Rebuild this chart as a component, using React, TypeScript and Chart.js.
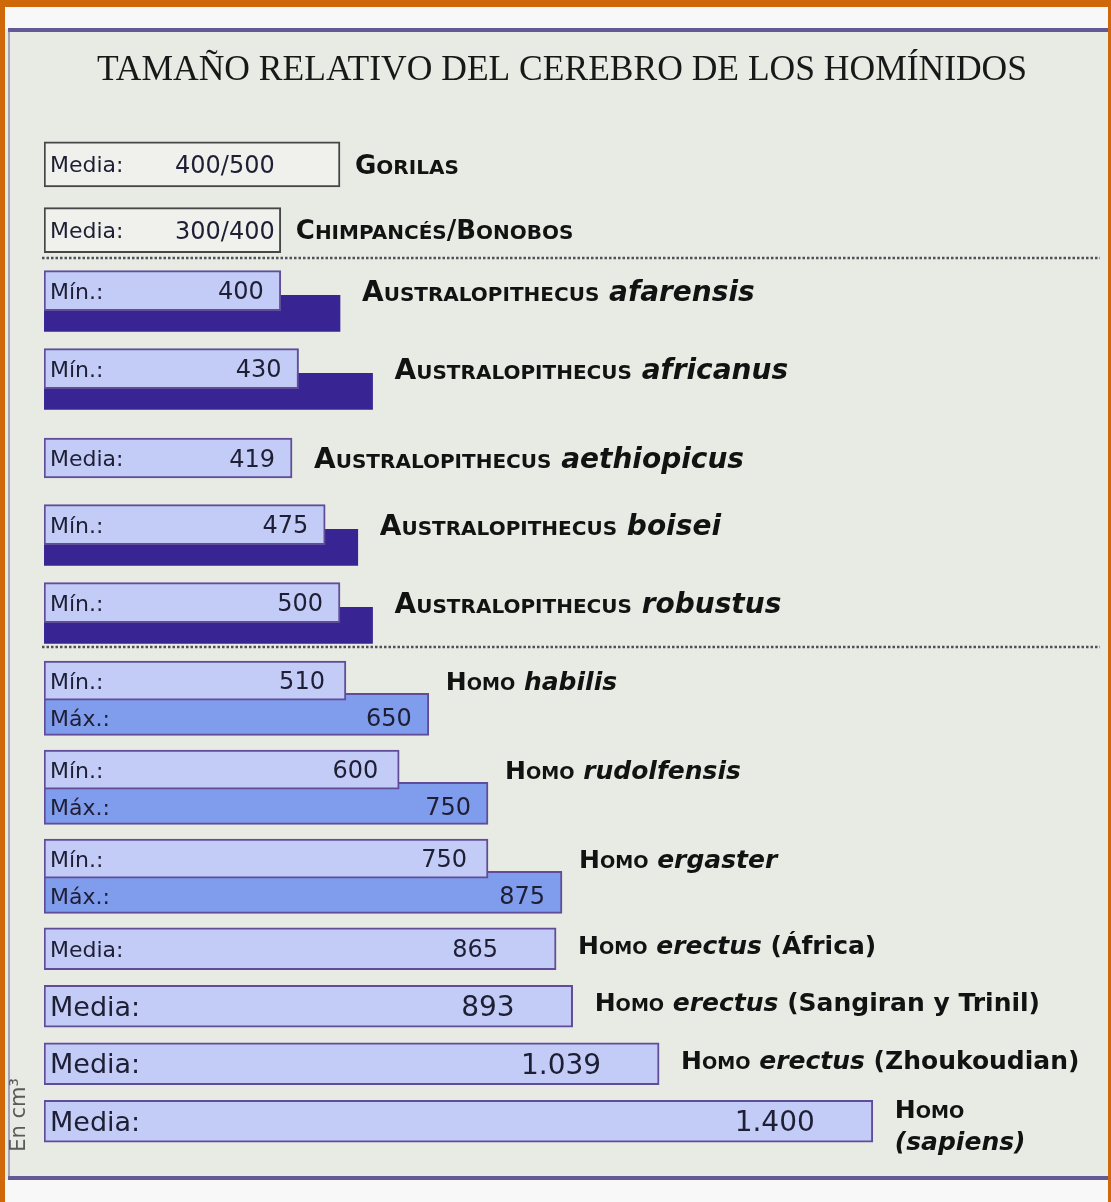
import React, { useEffect, useRef } from 'react';
import { Chart, registerables } from 'chart.js';

Chart.register(...registerables);

// ---------- DATA ----------
const TITLE = 'TAMAÑO RELATIVO DEL CEREBRO DE LOS HOMÍNIDOS';
const UNIT_NOTE = 'En cm³';

// Grandes simios (medias)
const APES = ['Gorilas', 'Chimpancés/Bonobos'];
const APES_MEDIA = [500, 400];
const APES_MEDIA_TEXT = ['400/500', '300/400'];

// Australopithecus: valor mínimo (o media) y máximo aproximado (barra oscura)
const AUSTRALO_GENUS = 'Australopithecus';
const AUSTRALO_SPECIES = ['afarensis', 'africanus', 'aethiopicus', 'boisei', 'robustus'];
const AUSTRALO_LOW = [400, 430, 419, 475, 500];
const AUSTRALO_LOW_KIND = ['Mín.:', 'Mín.:', 'Media:', 'Mín.:', 'Mín.:'];
const AUSTRALO_HIGH = [500, 555, null, 530, 555];

// Homo primitivos: mínimo y máximo
const HOMO_GENUS = 'Homo';
const EARLY_HOMO = ['habilis', 'rudolfensis', 'ergaster'];
const EARLY_HOMO_MIN = [510, 600, 750];
const EARLY_HOMO_MAX = [650, 750, 875];

// Homo erectus / sapiens: medias
const LATE_HOMO = ['erectus', 'erectus', 'erectus', 'sapiens'];
const LATE_HOMO_SITE = ['(África)', '(Sangiran y Trinil)', '(Zhoukoudian)', ''];
const LATE_HOMO_MEDIA = [865, 893, 1039, 1400];

const X_MAX = 1750;

// ---------- LAYOUT / STYLE ----------
const PAIR_B = 0.146; // half offset (in rows) between overlapping bars, Australopithecus
const PAIR_C = 0.19;  // half offset (in rows) between overlapping bars, early Homo
const SANS = '"DejaVu Sans", sans-serif';
const SERIF = '"Liberation Serif", "Times New Roman", serif';
const LIGHT = 'rgb(194,204,246)';
const MID = 'rgb(128,156,236)';
const DARK = 'rgb(56,36,146)';
const EDGE = 'rgb(96,76,152)';
const TEXT_IN = 'rgb(30,30,52)';

type Run = { text: string; font: string };
const font = (style: string, size: number) => `${style} ${size}px ${SANS}`;

function smallCaps(word: string, big: number, small: number): Run[] {
  const runs: Run[] = [];
  for (const ch of word) {
    const lower = ch !== ch.toUpperCase();
    const fnt = font('bold', lower ? small : big);
    const text = lower ? ch.toUpperCase() : ch;
    const last = runs[runs.length - 1];
    if (last && last.font === fnt) last.text += text;
    else runs.push({ text, font: fnt });
  }
  return runs;
}

function drawRuns(ctx: CanvasRenderingContext2D, runs: Run[], x: number, y: number) {
  ctx.textAlign = 'left';
  ctx.textBaseline = 'alphabetic';
  for (const r of runs) {
    ctx.font = r.font;
    ctx.fillText(r.text, x, y);
    x += ctx.measureText(r.text).width;
  }
}

const fmt = (v: number) =>
  v >= 1000 ? `${Math.floor(v / 1000)}.${String(v % 1000).padStart(3, '0')}` : String(v);

const pick = (v: any, i: number) => (Array.isArray(v) ? v[i] : v);
const valueOf = (ds: any, i: number) => {
  const d = ds.data[i];
  return d === null || d === undefined || d.x === null || d.x === undefined ? null : d.x;
};

const SECTIONS = [
  {
    datasets: [0], big: 26, gap: 15, dy: 0,
    lines: (i: number) => [{ dy: 0, runs: smallCaps(APES[i], 26, 20) }],
  },
  {
    datasets: [1, 2], big: 28, gap: 22, dy: 0,
    lines: (i: number) => [{
      dy: 0,
      runs: [...smallCaps(AUSTRALO_GENUS, 28, 20), { text: ' ', font: font('bold', 28) },
        { text: AUSTRALO_SPECIES[i], font: font('italic bold', 28) }],
    }],
  },
  {
    datasets: [3, 4], big: 25, gap: 17, dy: 0,
    lines: (i: number) => [{
      dy: 0,
      runs: [...smallCaps(HOMO_GENUS, 25, 18), { text: ' ', font: font('bold', 25) },
        { text: EARLY_HOMO[i], font: font('italic bold', 25) }],
    }],
  },
  {
    datasets: [5], big: 25, gap: 22, dy: -4,
    lines: (i: number) => LATE_HOMO_SITE[i]
      ? [{
        dy: 0,
        runs: [...smallCaps(HOMO_GENUS, 25, 18), { text: ' ', font: font('bold', 25) },
          { text: LATE_HOMO[i], font: font('italic bold', 25) },
          { text: ' ' + LATE_HOMO_SITE[i], font: font('bold', 25) }],
      }]
      : [
        { dy: -8, runs: smallCaps(HOMO_GENUS, 25, 18) },
        { dy: 24, runs: [{ text: `(${LATE_HOMO[i]})`, font: font('italic bold', 25) }] },
      ],
  },
];

const framePlugin = {
  id: 'frame',
  beforeDraw(chart: any) {
    const { ctx, width, height } = chart;
    ctx.save();
    ctx.fillStyle = 'rgb(232,235,228)';
    ctx.fillRect(0, 0, width, height);
    ctx.fillStyle = 'rgb(248,248,248)';
    ctx.fillRect(0, 0, width, 29);
    ctx.fillRect(0, 1180, width, height - 1180);
    ctx.fillStyle = 'rgb(100,88,150)';
    ctx.fillRect(8, 28, width - 8, 4);
    ctx.fillRect(8, 1176, width - 8, 4);
    ctx.fillStyle = 'rgba(110,100,150,0.55)';
    ctx.fillRect(8, 30, 2, 1148);
    ctx.fillStyle = 'rgb(206,104,8)';
    ctx.fillRect(0, 0, width, 7);
    ctx.fillRect(0, 0, 5, height);
    ctx.fillRect(width - 3, 0, 3, height);

    ctx.fillStyle = 'rgb(24,24,24)';
    ctx.font = `35.5px ${SERIF}`;
    ctx.textAlign = 'center';
    ctx.textBaseline = 'alphabetic';
    ctx.fillText(TITLE, 562, 80);

    ctx.strokeStyle = 'rgb(80,80,90)';
    ctx.lineWidth = 2.5;
    ctx.setLineDash([2.5, 2]);
    const ys = [chart.scales.yA.bottom - 5, chart.scales.yB.bottom - 6];
    for (const y of ys) {
      ctx.beginPath();
      ctx.moveTo(42, y);
      ctx.lineTo(1100, y);
      ctx.stroke();
    }
    ctx.setLineDash([]);

    ctx.translate(20, 1115);
    ctx.rotate(-Math.PI / 2);
    ctx.fillStyle = 'rgb(90,90,90)';
    ctx.font = `21px ${SANS}`;
    ctx.textAlign = 'center';
    ctx.textBaseline = 'middle';
    ctx.fillText(UNIT_NOTE, 0, 0);
    ctx.restore();
  },
};

const textPlugin = {
  id: 'barTexts',
  afterDatasetsDraw(chart: any) {
    const ctx: CanvasRenderingContext2D = chart.ctx;
    ctx.save();
    chart.data.datasets.forEach((ds: any, di: number) => {
      if (!ds.inBar) return;
      const meta = chart.getDatasetMeta(di);
      const cfg = ds.inBar;
      meta.data.forEach((el: any, i: number) => {
        const v = valueOf(ds, i);
        if (v === null) return;
        let top = el.y - el.height / 2;
        const bottom = el.y + el.height / 2;
        if (cfg.coveredBy !== undefined) {
          const o = chart.getDatasetMeta(cfg.coveredBy).data[i];
          const ov = valueOf(chart.data.datasets[cfg.coveredBy], i);
          if (o && ov !== null) top = Math.max(top, o.y + o.height / 2);
        }
        const cy = (top + bottom) / 2;
        const ls = pick(cfg.labelSize, i);
        const ns = pick(cfg.numSize, i);
        ctx.fillStyle = TEXT_IN;
        ctx.textBaseline = 'alphabetic';
        ctx.font = font('', ls);
        ctx.textAlign = 'left';
        ctx.fillText(pick(cfg.kind, i), el.base + 6, cy + ls * 0.36);
        const txt = cfg.texts ? cfg.texts[i] : fmt(v);
        ctx.font = font('', ns);
        if (cfg.numMode === 'column') {
          ctx.textAlign = 'left';
          ctx.fillText(txt, el.base + cfg.numPad, cy + ns * 0.36);
        } else {
          ctx.textAlign = 'right';
          ctx.fillText(txt, el.x - pick(cfg.numPad, i), cy + ns * 0.36);
        }
      });
    });
    ctx.fillStyle = 'rgb(18,18,18)';
    for (const sec of SECTIONS) {
      const metas = sec.datasets.map((d) => chart.getDatasetMeta(d));
      metas[0].data.forEach((el: any, i: number) => {
        let xEnd = -Infinity;
        sec.datasets.forEach((d, k) => {
          const v = valueOf(chart.data.datasets[d], i);
          if (v !== null) xEnd = Math.max(xEnd, metas[k].data[i].x);
        });
        const cy = el.y + sec.dy;
        for (const line of sec.lines(i)) {
          drawRuns(ctx, line.runs, xEnd + sec.gap, cy + line.dy + sec.big * 0.36);
        }
      });
    }
    ctx.restore();
  },
};

export default function App() {
  const ref = useRef<HTMLCanvasElement | null>(null);
  useEffect(() => {
    if (!ref.current) return;
    const common = {
      borderSkipped: false, grouped: false, categoryPercentage: 1, barPercentage: 1,
    };
    const rowAxis = (n: number, weight: number) => ({
      type: 'linear', min: -0.5, max: n - 0.5, reverse: true, offset: false,
      position: 'left', stack: 'rows', stackWeight: weight, display: false,
    });
    const chart = new Chart(ref.current, {
      type: 'bar',
      data: {
        datasets: [
          {
            ...common, label: 'Media', yAxisID: 'yA', order: 0,
            data: APES_MEDIA.map((v, i) => ({ x: v, y: i })),
            backgroundColor: 'rgb(240,241,237)', borderColor: 'rgb(70,70,70)', borderWidth: 2,
            barThickness: 45, maxBarThickness: 45,
            inBar: { kind: 'Media:', texts: APES_MEDIA_TEXT, labelSize: 22, numSize: 24, numMode: 'column', numPad: 131 },
          },
          {
            ...common, label: 'Mín.', yAxisID: 'yB', order: 0,
            data: AUSTRALO_LOW.map((v, i) => ({ x: v, y: AUSTRALO_HIGH[i] === null ? i : i - PAIR_B })),
            backgroundColor: LIGHT, borderColor: EDGE, borderWidth: 2,
            barThickness: 40, maxBarThickness: 40,
            inBar: { kind: AUSTRALO_LOW_KIND, labelSize: 22, numSize: 24, numPad: 17 },
          },
          {
            ...common, label: 'Máx.', yAxisID: 'yB', order: 1,
            data: AUSTRALO_HIGH.map((v, i) => ({ x: v, y: i + PAIR_B })),
            backgroundColor: DARK, borderColor: DARK, borderWidth: 0,
            barThickness: 36, maxBarThickness: 36,
          },
          {
            ...common, label: 'Mín.', yAxisID: 'yC', order: 0,
            data: EARLY_HOMO_MIN.map((v, i) => ({ x: v, y: i - PAIR_C })),
            backgroundColor: LIGHT, borderColor: EDGE, borderWidth: 2,
            barThickness: 39, maxBarThickness: 39,
            inBar: { kind: 'Mín.:', labelSize: 22, numSize: 24, numPad: 21 },
          },
          {
            ...common, label: 'Máx.', yAxisID: 'yC', order: 1,
            data: EARLY_HOMO_MAX.map((v, i) => ({ x: v, y: i + PAIR_C })),
            backgroundColor: MID, borderColor: EDGE, borderWidth: 2,
            barThickness: 42, maxBarThickness: 42,
            inBar: { kind: 'Máx.:', labelSize: 22, numSize: 24, numPad: 17, coveredBy: 3 },
          },
          {
            ...common, label: 'Media', yAxisID: 'yD', order: 0,
            data: LATE_HOMO_MEDIA.map((v, i) => ({ x: v, y: i })),
            backgroundColor: LIGHT, borderColor: EDGE, borderWidth: 2,
            barThickness: 42, maxBarThickness: 42,
            inBar: { kind: 'Media:', labelSize: [22, 27, 27, 27], numSize: [24, 28, 28, 28], numPad: 58 },
          },
        ] as any,
      },
      options: {
        indexAxis: 'y',
        responsive: false,
        maintainAspectRatio: false,
        animation: false,
        devicePixelRatio: 1,
        events: [],
        layout: { padding: { left: 44, right: 31, top: 131.5, bottom: 52 } },
        plugins: { legend: { display: false }, tooltip: { enabled: false }, title: { display: false } },
        scales: {
          x: { type: 'linear', min: 0, max: X_MAX, display: false },
          // left-side stacked axes are laid out bottom-up: last key ends on top
          yD: rowAxis(LATE_HOMO_MEDIA.length, 230),
          yC: rowAxis(EARLY_HOMO_MIN.length, 267),
          yB: rowAxis(AUSTRALO_LOW.length, 390),
          yA: rowAxis(APES_MEDIA.length, 131.5),
        },
      } as any,
      plugins: [framePlugin, textPlugin],
    });
    return () => chart.destroy();
  }, []);

  return (
    <div style={{ position: 'absolute', left: 0, top: 0, width: 1111, height: 1202, overflow: 'hidden' }}>
      <canvas ref={ref} width={1111} height={1202} style={{ display: 'block' }} />
    </div>
  );
}
